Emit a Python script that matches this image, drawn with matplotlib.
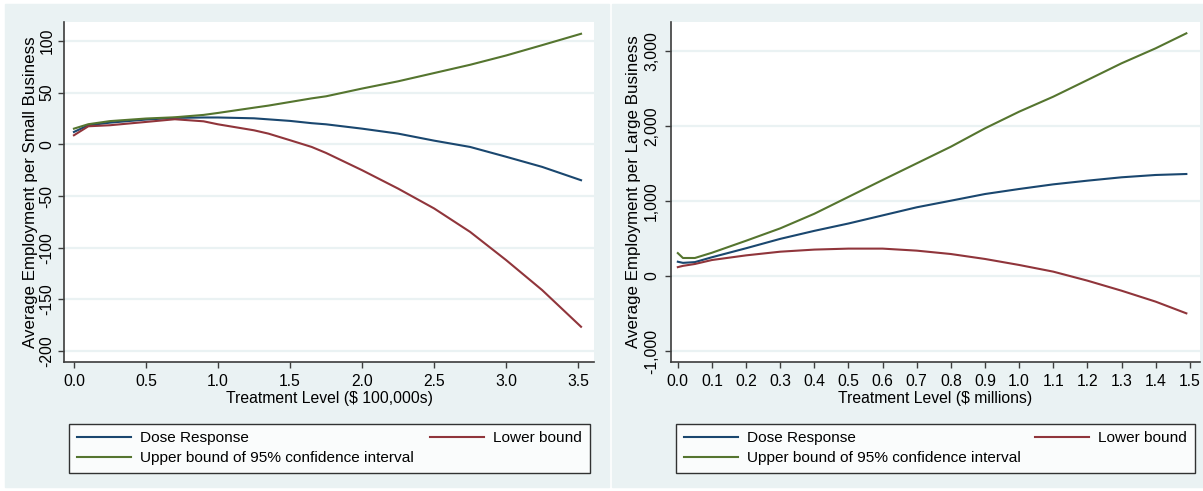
import numpy as np
import matplotlib.pyplot as plt
from matplotlib.patches import Rectangle
from matplotlib.ticker import FuncFormatter

plt.rcParams['font.family'] = ['Liberation Sans', 'DejaVu Sans']

# Left panel: small businesses, treatment in $100,000s
small_x = [0.0, 0.1, 0.25, 0.5, 0.7, 0.9, 1.0, 1.25, 1.35, 1.5, 1.65, 1.75,
           2.0, 2.25, 2.5, 2.75, 3.0, 3.25, 3.52]
small_dose = [12.0, 18.5, 21.0, 24.0, 25.6, 26.0, 26.0, 25.2, 24.2, 22.7, 20.5, 19.4,
              15.2, 10.4, 3.6, -2.5, -12.0, -21.8, -34.7]
small_lower = [8.8, 17.5, 18.5, 21.7, 24.3, 22.3, 19.4, 13.6, 10.4, 4.0, -2.5, -8.3,
               -25.0, -42.8, -62.0, -84.7, -112.0, -141.0, -176.5]
small_upper = [15.2, 19.5, 22.5, 25.0, 26.2, 28.5, 30.4, 35.5, 37.5, 41.0, 44.5, 46.5,
               54.0, 61.0, 69.0, 77.0, 86.0, 96.0, 107.0]

# Right panel: large businesses, treatment in $ millions
large_x = [0.0, 0.015, 0.05, 0.1, 0.2, 0.3, 0.4, 0.5, 0.6, 0.7, 0.8, 0.9,
           1.0, 1.1, 1.2, 1.3, 1.4, 1.49]
large_dose = [190, 175, 185, 250, 370, 495, 602, 700, 808, 916, 1004, 1093,
              1160, 1222, 1271, 1316, 1347, 1360]
large_lower = [118, 135, 160, 213, 275, 324, 352, 365, 365, 338, 293, 227,
               147, 58, -62, -196, -342, -498]
large_upper = [305, 240, 240, 310, 470, 635, 830, 1055, 1280, 1502, 1724, 1969,
               2191, 2391, 2613, 2836, 3036, 3236]

labels = ["Dose Response", "Upper bound of 95% confidence interval", "Lower bound"]
navy, maroon, green = '#1A476F', '#90353B', '#55752F'
bg = '#EAF2F3'

W, H = 1203, 491
fig = plt.figure(figsize=(W / 100, H / 100), dpi=100)
fig.patch.set_facecolor('white')

# Stata-style panel backgrounds (drawn behind the axes)
fig.patches.append(Rectangle((5 / W, 1 - 487 / H), 604 / W, 483 / H,
                             transform=fig.transFigure, color=bg, zorder=-10))
fig.patches.append(Rectangle((612 / W, 1 - 487 / H), 591 / W, 483 / H,
                             transform=fig.transFigure, color=bg, zorder=-10))


def make_panel(px_left, px_right, x, dose, lower, upper, xlim, ylim, xticks, yticks,
               xfmt, yfmt, xlabel, ylabel, ylab_x, ypad, leg_box):
    ax = fig.add_axes([px_left / W, 1 - 362 / H, (px_right - px_left) / W, 340 / H])
    ax.set_facecolor('white')
    ax.plot(x, dose, color=navy, lw=1.5, zorder=3)
    ax.plot(x, upper, color=green, lw=1.5, zorder=3)
    ax.plot(x, lower, color=maroon, lw=1.5, zorder=3)
    ax.set_xlim(*xlim)
    ax.set_ylim(*ylim)
    ax.set_xticks(xticks)
    ax.set_yticks(yticks)
    ax.xaxis.set_major_formatter(FuncFormatter(xfmt))
    ax.yaxis.set_major_formatter(FuncFormatter(yfmt))
    ax.grid(axis='y', color=bg, lw=1.6, zorder=1)
    for s in ['top', 'right']:
        ax.spines[s].set_visible(False)
    for s in ['left', 'bottom']:
        ax.spines[s].set_color('#3c3c3c')
        ax.spines[s].set_linewidth(1.2)
    ax.tick_params(axis='both', direction='out', length=4.5, width=1, color='#3c3c3c',
                   labelsize=11.3)
    ax.tick_params(axis='x', pad=4)
    ax.tick_params(axis='y', labelrotation=90, pad=ypad)
    plt.setp(ax.get_yticklabels(), va='center')
    ax.set_xlabel(xlabel, fontsize=11.3)
    ax.xaxis.set_label_coords(0.5, -0.108)
    ax.xaxis.label.set_va('center')
    ax.set_ylabel(ylabel, fontsize=12.2)
    ax.yaxis.set_label_coords(ylab_x, 0.5)
    ax.yaxis.label.set_va('center')

    lx0, lx1 = leg_box
    leg = ax.legend(ax.lines, [labels[0], labels[1], labels[2]], ncol=2,
                    mode='expand', loc='lower left',
                    bbox_to_anchor=(lx0 / W, 1 - 473 / H, (lx1 - lx0) / W, 56 / H),
                    bbox_transform=fig.transFigure, fontsize=11.1, frameon=True,
                    fancybox=False, edgecolor='black', borderpad=0.5,
                    labelspacing=0.38, handlelength=3.5, handletextpad=0.6,
                    borderaxespad=0, columnspacing=1.0)
    leg.get_frame().set_linewidth(1.0)
    leg.get_frame().set_facecolor('white')
    return ax


make_panel(64, 594, small_x, small_dose, small_lower, small_upper,
           (-0.069, 3.61), (-210.6, 118.4),
           np.arange(0, 3.51, 0.5), np.arange(-200, 101, 50),
           lambda v, p: f"{v:.1f}", lambda v, p: f"{v:.0f}",
           "Treatment Level ($ 100,000s)", "Average Employment per Small Business",
           -0.063, 2.5, (69, 590))

make_panel(671, 1200, large_x, large_dose, large_lower, large_upper,
           (-0.02, 1.53), (-1147, 3387),
           np.arange(0, 1.51, 0.1), np.arange(-1000, 3001, 1000),
           lambda v, p: f"{v:.1f}", lambda v, p: f"{v:,.0f}",
           "Treatment Level ($ millions)", "Average Employment per Large Business",
           -0.07, 4, (676, 1195))

fig.savefig('out.png', dpi=100)
